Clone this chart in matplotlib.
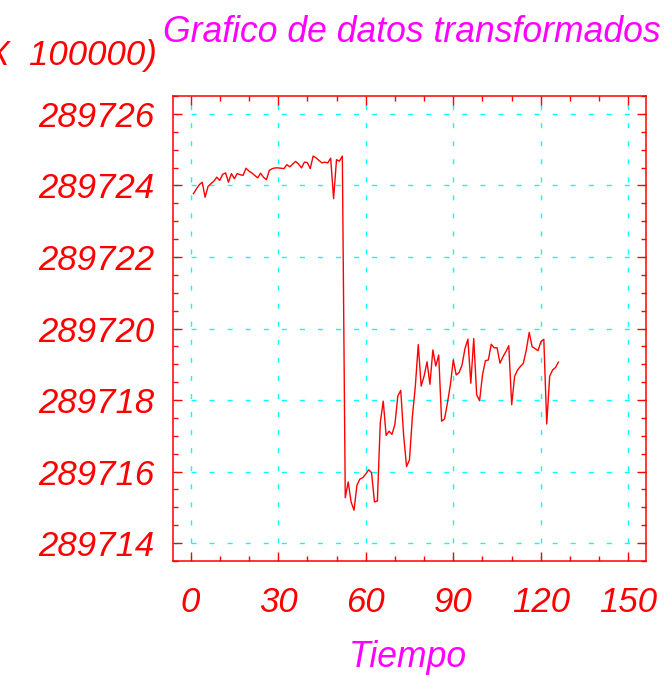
import numpy as np
import matplotlib
matplotlib.use("Agg")
import matplotlib.pyplot as plt
from matplotlib.ticker import MultipleLocator, FormatStrFormatter

# Data
BASE = 289700
tiempo = np.arange(1, 127)
valores_offset = [
    23.77, 23.90, 24.02, 24.09, 23.67, 23.97, 24.05, 24.12, 24.23, 24.14,
    24.31, 24.35, 24.09, 24.33, 24.19, 24.33, 24.30, 24.28, 24.48, 24.40,
    24.35, 24.28, 24.21, 24.34, 24.23, 24.16, 24.42, 24.47, 24.49, 24.49,
    24.48, 24.47, 24.58, 24.52, 24.60, 24.67, 24.60, 24.49, 24.65, 24.64,
    24.47, 24.82, 24.77, 24.70, 24.63, 24.65, 24.63, 24.76, 23.63, 24.72,
    24.68, 24.82,
    15.27, 15.71, 15.15, 14.92, 15.62, 15.79, 15.83, 15.93, 16.05, 15.97,
    15.15, 15.18, 17.37, 17.97, 17.01, 17.13, 17.04, 17.32, 18.11, 18.27,
    17.00, 16.14, 16.33, 17.55, 18.39, 19.55, 18.39, 18.67, 19.07, 18.44,
    19.40, 18.95, 19.26, 17.41, 17.47, 17.92, 18.43, 19.12, 18.70, 18.77,
    18.98, 19.44, 19.70, 18.47, 19.72, 18.15, 17.98, 18.70, 19.10, 19.12,
    19.56, 19.46, 19.46, 19.03, 19.21, 19.35, 19.52, 17.87, 18.66, 18.84,
    18.94, 19.03, 19.40, 19.89, 19.49, 19.44, 19.38, 19.63, 19.70, 17.33,
    18.66, 18.84, 18.91, 19.06,
]
valores = BASE + np.array(valores_offset)

x_ticks = [0, 30, 60, 90, 120, 150]
y_ticks = [289714, 289716, 289718, 289720, 289722, 289724, 289726]

RED = "#ff0000"
MAGENTA = "#ff00ff"
CYAN = "#00ffff"

plt.rcParams["font.family"] = ["Liberation Sans", "DejaVu Sans"]

fig = plt.figure(figsize=(6.64, 6.75), dpi=100)
ax = fig.add_axes([173 / 664, 1 - 561 / 675, (646 - 173) / 664, (561 - 96) / 675])

ax.plot(tiempo, valores, color=RED, lw=1.0, zorder=3)

ax.set_xlim(-6, 156)
ax.set_ylim(289713.5, 289726.5)
ax.set_xticks(x_ticks)
ax.set_yticks(y_ticks)
ax.xaxis.set_minor_locator(MultipleLocator(10))
ax.yaxis.set_minor_locator(MultipleLocator(0.5))
ax.yaxis.set_major_formatter(FormatStrFormatter("%d"))

ax.grid(True, which="major", color=CYAN, lw=1.0, linestyle=(0, (3.6, 9.4)), zorder=1)

for s in ax.spines.values():
    s.set_color(RED)
    s.set_linewidth(1.1)

ax.tick_params(which="both", direction="in", top=True, right=True, color=RED)
ax.tick_params(which="major", length=6.5, width=1.0)
ax.tick_params(which="minor", length=3.4, width=1.0)
ax.tick_params(axis="x", which="major", pad=18, labelsize=25, labelcolor=RED)
ax.tick_params(axis="y", which="major", pad=13, labelsize=25, labelcolor=RED)
for lbl in ax.get_xticklabels() + ax.get_yticklabels():
    lbl.set_fontstyle("italic")

fig.text(411.5 / 664, 1 - 42 / 675, "Grafico de datos transformados",
         color=MAGENTA, fontsize=25.6, fontstyle="italic", ha="center", va="baseline")
# scale label is partly cut by the left edge, as in the original
fig.text(157 / 664, 1 - 65 / 675, "(X  100000)",
         color=RED, fontsize=25, fontstyle="italic", ha="right", va="baseline")
fig.text(407.5 / 664, 1 - 667 / 675, "Tiempo",
         color=MAGENTA, fontsize=25.6, fontstyle="italic", ha="center", va="baseline")

fig.savefig("out.png", dpi=100)
